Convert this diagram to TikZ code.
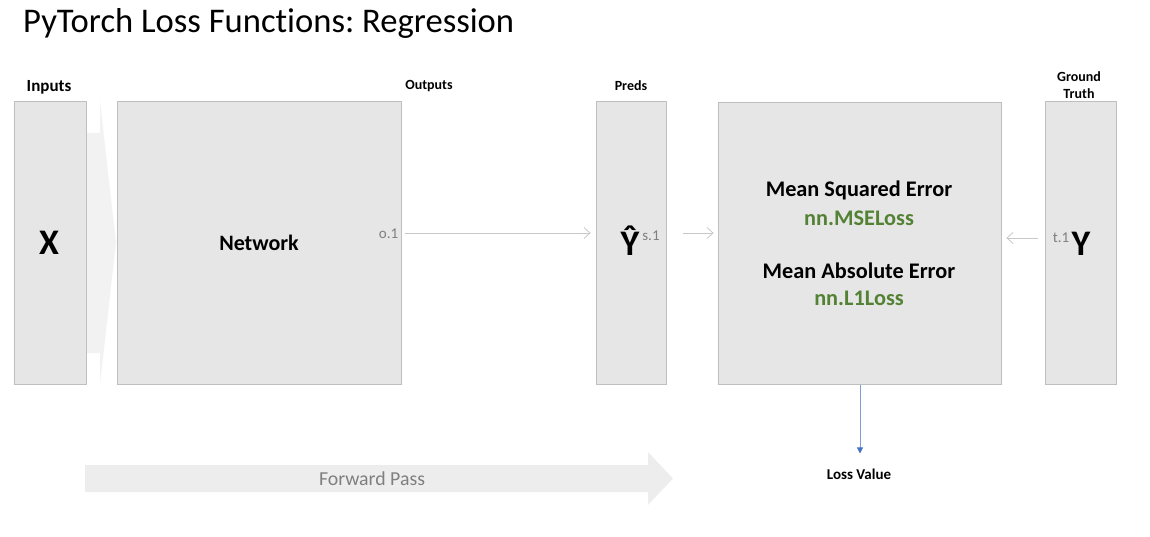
\documentclass[tikz,border=0pt]{standalone}
\usepackage{fontspec}
\setmainfont[Ligatures=NoCommon]{Carlito}
\usetikzlibrary{arrows.meta}
\frenchspacing
\definecolor{boxfill}{HTML}{E6E6E6}
\definecolor{boxline}{HTML}{BFBFBF}
\definecolor{arrline}{HTML}{C8C8C8}
\definecolor{subgrey}{HTML}{7F7F7F}
\definecolor{codegreen}{HTML}{548235}
\definecolor{lossblue}{HTML}{4472C4}
\definecolor{passfill}{HTML}{EDEDED}
\definecolor{chevfill}{HTML}{F2F2F2}
\begin{document}
\begin{tikzpicture}[x=1pt,y=-1pt,
  blockbox/.style={draw=boxline,fill=boxfill,line width=0.8pt,minimum height=283pt,inner sep=0pt},
  toplabel/.style={font=\bfseries\fontsize{14}{17}\selectfont,align=center,inner sep=0pt},
  sublabel/.style={text=subgrey,font=\fontsize{15}{17}\selectfont,inner sep=0pt},
  bigsym/.style={font=\bfseries\fontsize{36}{40}\selectfont,inner sep=0pt},
  lossname/.style={font=\bfseries\fontsize{22.3}{26}\selectfont,inner sep=0pt},
  losscode/.style={text=codegreen,font=\bfseries\fontsize{22.3}{26}\selectfont,inner sep=0pt},
  greyarrow/.style={draw=arrline,line width=0.8pt,-{Straight Barb[length=6pt,width=11pt]}},
  bluearrow/.style={draw=lossblue!70,line width=0.8pt,-{Triangle[length=6pt,width=6pt,fill=lossblue,color=lossblue]}}
]
\useasboundingbox (0,0) rectangle (1150,537);

% title
\node[anchor=base west,inner sep=0pt,font=\fontsize{34.6}{40}\selectfont\frenchspacing] (title) at (23,33) {PyTorch Loss Functions: Regression};

% chevron between inputs and network
\fill[chevfill] (86,133) -- (100,133) -- (100,101) -- (116,242.5) -- (100,384) -- (100,353) -- (86,353) -- cycle;

% boxes
\node[blockbox,minimum width=72pt] (inp) at (50,242.5) {};
\node[blockbox,minimum width=284pt] (net) at (259,242.5) {};
\node[blockbox,minimum width=70pt] (preds) at (631,242.5) {};
\node[blockbox,minimum width=283pt,minimum height=282pt] (loss) at (859.5,243.5) {};
\node[blockbox,minimum width=71pt] (gt) at (1080.5,242.5) {};

% top labels
\node[toplabel,font=\bfseries\fontsize{17}{19}\selectfont] (linp) at (49,87) {Inputs};
\node[toplabel] (lout) at (429,86) {Outputs};
\node[toplabel] (lpred) at (631,86) {Preds};
\node[toplabel] (lgt) at (1079,85) {Ground\\Truth};

% contents
\node[bigsym] (xsym) at (49,243) {X};
\node[inner sep=0pt,font=\bfseries\fontsize{22}{26}\selectfont] (netlab) at (259,243) {Network};
\node[sublabel] (o1) at (388.5,234) {o.1};
\node[bigsym] (yhat) at (630,241) {Ŷ};
\node[sublabel] (s1) at (651,236) {s.1};
\node[sublabel] (t1) at (1061,238) {t.1};
\node[bigsym] (ysym) at (1081,243.5) {Y};

\node[lossname] (mse) at (859,190) {Mean Squared Error};
\node[losscode] (msec) at (859,218) {nn.MSELoss};
\node[lossname] (mae) at (859,271) {Mean Absolute Error};
\node[losscode] (maec) at (859,298) {nn.L1Loss};

\node[inner sep=0pt,font=\bfseries\fontsize{15}{17}\selectfont] (lv) at (859,474) {Loss Value};

% connectors
\draw[greyarrow,shorten <=7pt,shorten >=5pt] (o1.east) ++(0,-1) coordinate (o1a) -- (o1a -| preds.west);
\draw[greyarrow,shorten <=17pt,shorten >=4pt] (preds.east |- o1a) -- (loss.west |- o1a);
\draw[greyarrow,shorten <=7pt,shorten >=5pt] (gt.west |- t1) -- (loss.east |- t1);
\draw[bluearrow,shorten >=15pt] (loss.south -| 860,0) -- (lv.north -| 860,0);

% forward pass arrow
\fill[passfill] (85,465) -- (648,465) -- (648,452) -- (673,478.5) -- (648,505) -- (648,492) -- (85,492) -- cycle;
\node[inner sep=0pt,text=subgrey,font=\fontsize{19.8}{23}\selectfont] (fp) at (372,478.5) {Forward Pass};
\end{tikzpicture}
\end{document}
